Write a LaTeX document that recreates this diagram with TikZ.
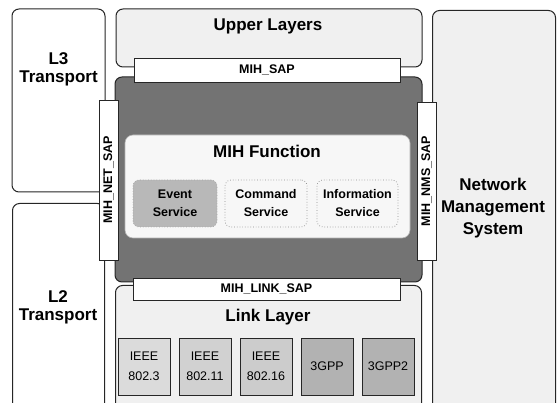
\documentclass[tikz,border=0pt]{standalone}
\usepackage{fontspec}
\setmainfont{Liberation Sans}
\begin{document}
\begin{tikzpicture}[x=1pt,y=-1pt,
  big/.style={font=\fontsize{17}{18}\bfseries\selectfont, align=center},
  med/.style={font=\fontsize{12.5}{18}\bfseries\selectfont, align=center},
  std/.style={font=\fontsize{12.5}{20}\selectfont, align=center},
  frame/.style={draw=black!85, line width=1pt, rounded corners=7pt},
  sapbar/.style={draw=black!85, line width=0.9pt, fill=white, inner sep=0pt},
  radio/.style={draw=black!85, line width=0.9pt, inner sep=0pt, minimum width=52, minimum height=57, std}
]
\useasboundingbox (0,0) rectangle (558,403);
\begin{scope}
\clip (0,0) rectangle (558,403);
% outer boxes
\node[frame, fill=white, minimum width=93, minimum height=183, inner sep=0pt] (l3) at (58.5,100.5) {};
\node[frame, fill=white, minimum width=92, minimum height=220, inner sep=0pt, anchor=north west] (l2) at (12,203) {};
\node[frame, fill=black!6, minimum width=306, minimum height=58, inner sep=0pt] (upper) at (269,38) {};
\node[frame, fill=black!6, minimum width=123, minimum height=420, inner sep=0pt, anchor=north west] (nms) at (432,10) {};
\node[frame, fill=black!6, minimum width=306, minimum height=140, inner sep=0pt, anchor=north west] (link) at (115,285) {};
% dark MIH box
\node[frame, fill=black!55, minimum width=307, minimum height=205, inner sep=0pt] (mih) at (268.5,179.5) {};
\node[frame, draw=black!30, line width=0.6pt, fill=black!3, rounded corners=8pt, minimum width=285, minimum height=103, inner sep=0pt] (func) at (267.5,186.5) {};
% services
\node[draw=black!35, line width=0.7pt, dotted, fill=black!28, rounded corners=6pt, minimum width=84, minimum height=47, inner sep=0pt, med] (event) at (175,203.5) {Event\\Service};
\node[draw=black!45, line width=0.7pt, dotted, fill=black!3, rounded corners=6pt, minimum width=82, minimum height=47, inner sep=0pt, med] (command) at (266,203.5) {Command\\Service};
\node[draw=black!45, line width=0.7pt, dotted, fill=black!3, rounded corners=6pt, minimum width=81, minimum height=47, inner sep=0pt, med] (info) at (357.5,203.5) {Information\\Service};
% SAP bars
\node[sapbar, minimum width=266, minimum height=24, med] (sap) at (267,70) {MIH\_SAP};
\node[sapbar, minimum width=267, minimum height=22, med] (linksap) at (266.5,289) {MIH\_LINK\_SAP};
\node[sapbar, minimum width=19, minimum height=160] (netsap) at (108.5,180) {};
\node[med, rotate=90] (netsaptxt) at (netsap.center) {MIH\_NET\_SAP};
\node[sapbar, minimum width=19, minimum height=158] (nmssap) at (426.5,181) {};
\node[med, rotate=90] (nmssaptxt) at (nmssap.center) {MIH\_NMS\_SAP};
% link technologies
\node[radio, fill=black!14] (ieee3) at (144,366.5) {IEEE\\802.3};
\node[radio, fill=black!18] (ieee11) at (205,366.5) {IEEE\\802.11};
\node[radio, fill=black!20] (ieee16) at (266,366.5) {IEEE\\802.16};
\node[radio, fill=black!30] (gpp) at (327,366.5) {3GPP};
\node[radio, fill=black!30] (gpp2) at (388,366.5) {3GPP2};
\end{scope}
% labels
\node[big] (l3txt) at (58.5,69) {L3\\Transport};
\node[big] (l2txt) at (58,307) {L2\\Transport};
\node[big] (uppertxt) at (268,26) {Upper Layers};
\node[big, font=\fontsize{17}{22}\bfseries\selectfont] (nmstxt) at (493,208) {Network\\Management\\System};
\node[big] (linktxt) at (268,317) {Link Layer};
\node[big] (functxt) at (267,151) {MIH Function};
\end{tikzpicture}
\end{document}
